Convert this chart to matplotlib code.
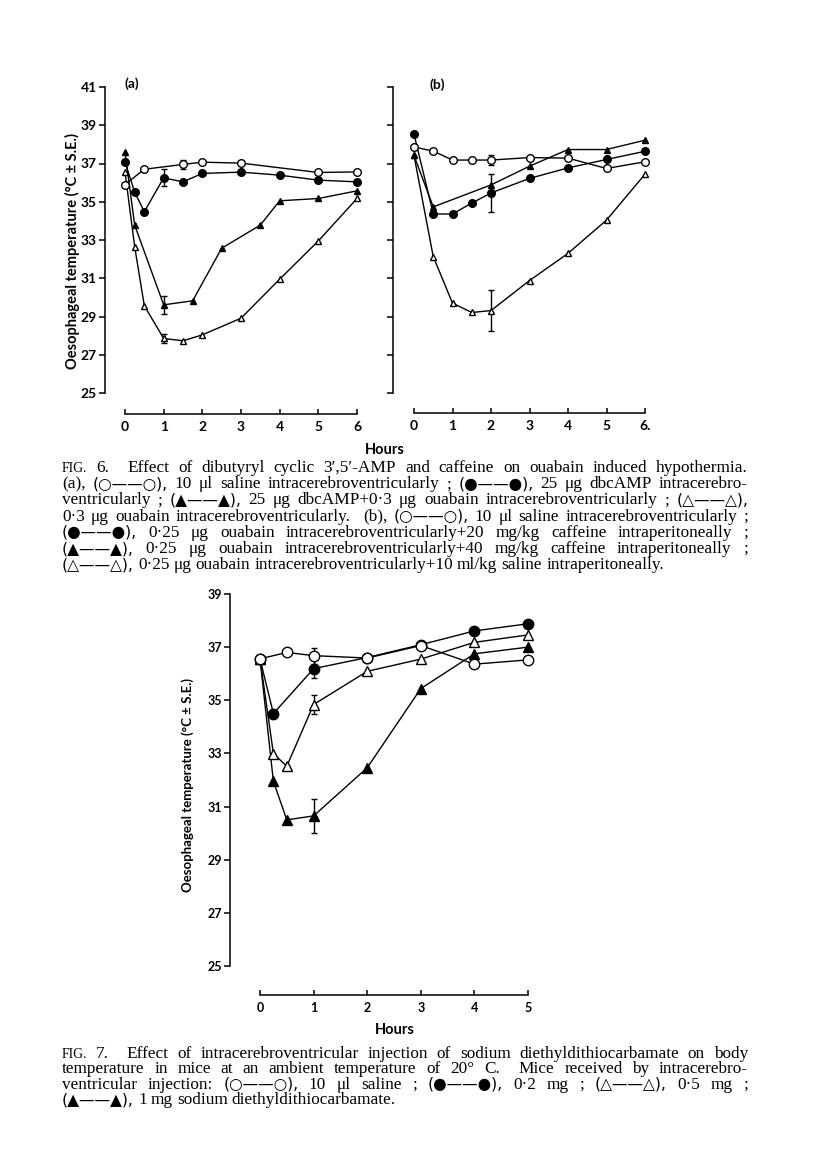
import matplotlib
matplotlib.use("Agg")
import matplotlib.pyplot as plt

W, H = 816, 1172

# ---- Fig. 6 (a) ----
a_h_sal = [0, 0.5, 1.5, 2, 3, 5, 6]
a_sal = [35.9, 36.7, 36.95, 37.07, 37.02, 36.53, 36.56]
a_sal_err = [0, 0, 0.25, 0, 0, 0, 0]
a_h_dbc = [0, 0.25, 0.5, 1, 1.5, 2, 3, 4, 5, 6]
a_dbc = [37.08, 35.5, 34.48, 36.25, 36.04, 36.48, 36.55, 36.39, 36.13, 36.04]
a_dbc_err = [0, 0, 0, 0.44, 0, 0, 0, 0, 0, 0]
a_h_dbcoua = [0, 0.25, 1, 1.75, 2.5, 3.5, 4, 5, 6]
a_dbcoua = [37.6, 33.78, 29.61, 29.82, 32.57, 33.78, 35.05, 35.17, 35.57]
a_dbcoua_err = [0, 0, 0.48, 0, 0, 0, 0, 0, 0]
a_h_oua = [0, 0.25, 0.5, 1, 1.5, 2, 3, 4, 5, 6]
a_oua = [36.56, 32.65, 29.56, 27.85, 27.73, 28.04, 28.91, 30.95, 32.95, 35.17]
a_oua_err = [0, 0, 0, 0.25, 0, 0, 0, 0, 0, 0]

# ---- Fig. 6 (b) ----
b_h_sal = [0, 0.5, 1, 1.5, 2, 3, 4, 5, 6]
b_sal = [37.86, 37.65, 37.18, 37.18, 37.18, 37.31, 37.28, 36.74, 37.09]
b_sal_err = [0, 0, 0, 0, 0.26, 0, 0, 0, 0]
b_h_caf20 = [0, 0.5, 1, 1.5, 2, 3, 4, 5, 6]
b_caf20 = [38.54, 34.36, 34.36, 34.93, 35.46, 36.22, 36.77, 37.21, 37.64]
b_caf20_err = [0, 0, 0, 0, 0.99, 0, 0, 0, 0]
b_h_caf40 = [0, 0.5, 2, 3, 4, 5, 6]
b_caf40 = [37.42, 34.73, 35.88, 36.86, 37.73, 37.73, 38.22]
b_caf40_err = [0, 0, 0, 0, 0, 0, 0]
b_h_salip = [0, 0.5, 1, 1.5, 2, 3, 4, 5, 6]
b_salip = [37.42, 32.13, 29.70, 29.21, 29.31, 30.88, 32.3, 34.04, 36.44]
b_salip_err = [0, 0, 0, 0, 1.08, 0, 0, 0, 0]

# ---- Fig. 7 ----
c_h_sal = [0, 0.5, 1, 2, 3, 4, 5]
c_sal = [36.56, 36.8, 36.68, 36.59, 37.06, 36.36, 36.52]
c_sal_err = [0, 0, 0.3, 0, 0, 0, 0]
c_h_02 = [0, 0.25, 1, 2, 3, 4, 5]
c_02 = [36.56, 34.5, 36.19, 36.61, 37.09, 37.61, 37.88]
c_02_err = [0, 0, 0.36, 0, 0, 0, 0]
c_h_tri = [0, 0.25, 0.5, 1, 2, 3, 4, 5]
c_05 = [36.56, 32.99, 32.52, 34.84, 36.09, 36.55, 37.18, 37.46]
c_05_err = [0, 0, 0, 0.36, 0, 0, 0, 0]
c_1 = [36.56, 31.95, 30.5, 30.65, 32.46, 35.44, 36.75, 37.0]
c_1_err = [0, 0, 0, 0.65, 0, 0, 0, 0]

yt6 = [25, 27, 29, 31, 33, 35, 37, 39, 41]
yt7 = [25, 27, 29, 31, 33, 35, 37, 39]

plt.rcParams['font.family'] = ['Lato', 'DejaVu Sans']
plt.rcParams['font.weight'] = 'bold'

fig = plt.figure(figsize=(W / 100, H / 100), dpi=100)


def make_ax(x0, x1, ytop, ybot, lout, bout):
    # positions given in page pixels
    ax = fig.add_axes([x0 / W, 1 - ybot / H, (x1 - x0) / W, (ybot - ytop) / H])
    ax.patch.set_visible(False)
    ax.spines[['top', 'right']].set_visible(False)
    ax.spines['left'].set_position(('outward', lout * 0.72))
    ax.spines['bottom'].set_position(('outward', bout * 0.72))
    for s in ax.spines.values():
        s.set_linewidth(1.1)
    ax.tick_params(axis='y', direction='out', length=4, width=1.1, pad=2)
    ax.tick_params(axis='x', direction='in', length=3.5, width=1.1, pad=5)
    return ax


def series(ax, x, y, e, marker, filled, ms, z):
    ax.plot(x, y, color='black', lw=1.0, marker=marker, ms=ms,
            mfc='black' if filled else 'white', mec='black', mew=1.0,
            clip_on=False, zorder=z)
    for xi, yi, ei in zip(x, y, e):
        if ei > 0:
            ax.errorbar([xi], [yi], yerr=[ei], fmt='none', ecolor='black',
                        elinewidth=1.0, capsize=2.5, capthick=1.0,
                        clip_on=False, zorder=z - 0.5)


# panel (a)
ax = make_ax(125, 357, 87, 393, 20, 21)
ax.set_xlim(0, 6)
ax.set_ylim(25, 41)
ax.set_yticks(yt6)
ax.set_yticklabels([str(v) for v in yt6], fontsize=10)
ax.set_xticks(range(7))
ax.set_xticklabels([str(v) for v in range(7)], fontsize=10)
series(ax, a_h_oua, a_oua, a_oua_err, '^', False, 5, 3)
series(ax, a_h_dbcoua, a_dbcoua, a_dbcoua_err, '^', True, 5, 4)
series(ax, a_h_dbc, a_dbc, a_dbc_err, 'o', True, 5.5, 5)
series(ax, a_h_sal, a_sal, a_sal_err, 'o', False, 5.5, 6)
fig.text(132 / W, 1 - 84 / H, '(a)', fontsize=10, ha='center', va='center')
fig.text(72 / W, 1 - 251 / H, 'Oesophageal temperature (°C ± S.E.)',
         rotation=90, fontsize=10.5, ha='center', va='center')

# panel (b)
ax = make_ax(414, 645, 87, 393, 21, 20)
ax.set_xlim(0, 6)
ax.set_ylim(25, 41)
ax.set_yticks(yt6)
ax.set_yticklabels([])
ax.set_xticks(range(7))
ax.set_xticklabels(['0', '1', '2', '3', '4', '5', '6.'], fontsize=10)
series(ax, b_h_salip, b_salip, b_salip_err, '^', False, 5, 3)
series(ax, b_h_caf40, b_caf40, b_caf40_err, '^', True, 5, 4)
series(ax, b_h_caf20, b_caf20, b_caf20_err, 'o', True, 5.5, 5)
series(ax, b_h_sal, b_sal, b_sal_err, 'o', False, 5.5, 6)
fig.text(437 / W, 1 - 85 / H, '(b)', fontsize=10, ha='center', va='center')
fig.text(385 / W, 1 - 450 / H, 'Hours', fontsize=10.5, ha='center', va='center')

# Fig. 7
ax = make_ax(260, 528, 594, 966, 30, 29)
ax.set_xlim(0, 5)
ax.set_ylim(25, 39)
ax.set_yticks(yt7)
ax.set_yticklabels([str(v) for v in yt7], fontsize=9)
ax.set_xticks(range(6))
ax.set_xticklabels([str(v) for v in range(6)], fontsize=9)
series(ax, c_h_tri, c_1, c_1_err, '^', True, 6.5, 3)
series(ax, c_h_tri, c_05, c_05_err, '^', False, 6.5, 4)
series(ax, c_h_02, c_02, c_02_err, 'o', True, 7.5, 5)
series(ax, c_h_sal, c_sal, c_sal_err, 'o', False, 7.5, 6)
fig.text(188 / W, 1 - 785 / H, 'Oesophageal temperature (°C ± S.E.)',
         rotation=90, fontsize=9.5, ha='center', va='center')
fig.text(395 / W, 1 - 1030 / H, 'Hours', fontsize=10.5, ha='center', va='center')

# captions, justified word by word
cap6 = [
    "FIG. 6.  Effect of dibutyryl cyclic 3′,5′-AMP and caffeine on ouabain induced hypothermia.",
    "(a), (○——○), 10 μl saline intracerebroventricularly ; (●——●), 25 μg dbcAMP intracerebro-",
    "ventricularly ; (▲——▲), 25 μg dbcAMP+0·3 μg ouabain intracerebroventricularly ; (△——△),",
    "0·3 μg ouabain intracerebroventricularly.  (b), (○——○), 10 μl saline intracerebroventricularly ;",
    "(●——●), 0·25 μg ouabain intracerebroventricularly+20 mg/kg caffeine intraperitoneally ;",
    "(▲——▲), 0·25 μg ouabain intracerebroventricularly+40 mg/kg caffeine intraperitoneally ;",
    "(△——△), 0·25 μg ouabain intracerebroventricularly+10 ml/kg saline intraperitoneally.",
]
cap7 = [
    "FIG. 7.  Effect of intracerebroventricular injection of sodium diethyldithiocarbamate on body",
    "temperature in mice at an ambient temperature of 20° C.  Mice received by intracerebro-",
    "ventricular injection: (○——○), 10 μl saline ; (●——●), 0·2 mg ; (△——△), 0·5 mg ;",
    "(▲——▲), 1 mg sodium diethyldithiocarbamate.",
]

serif = ['Liberation Serif', 'DejaVu Sans']
symfont = ['DejaVu Sans']
renderer = fig.canvas.get_renderer()


def justify(line, x0, x1, y, size, last=False):
    words = line.split(' ')
    texts = []
    for w in words:
        fs = size * 0.8 if w == 'FIG.' else size
        fam = symfont if any(c in w for c in '○●△▲') else serif
        if fam is symfont:
            fs = size * 0.9
        texts.append(fig.text(0, 0, w, fontsize=fs, family=fam,
                              fontweight='normal', va='baseline'))
    widths = [t.get_window_extent(renderer).width if t.get_text() else 0
              for t in texts]
    if last:
        gap = size * 0.33
    else:
        gap = (x1 - x0 - sum(widths)) / (len(words) - 1)
    x = x0
    for t, w in zip(texts, widths):
        t.set_position((x / W, 1 - y / H))
        x += w + gap


for i, line in enumerate(cap6):
    justify(line, 62, 748, 472 + i * 16.2, 12.4, last=(i == len(cap6) - 1))
for i, line in enumerate(cap7):
    justify(line, 62, 748, 1058 + i * 15.4, 12.4, last=(i == len(cap7) - 1))

fig.savefig('out.png', dpi=100)
